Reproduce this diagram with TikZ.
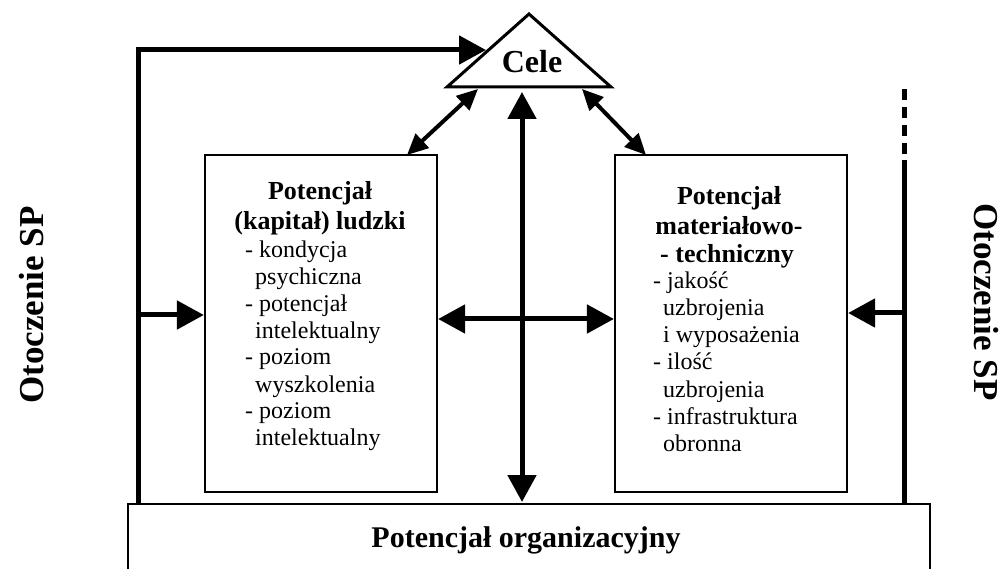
\documentclass[tikz,border=0pt]{standalone}
\usepackage{fontspec}
\setmainfont{Liberation Serif}
\usetikzlibrary{arrows.meta}
\begin{document}
\begin{tikzpicture}[x=1pt,y=-1pt,
  thickline/.style={line width=5pt},
  medline/.style={line width=4pt},
  boxline/.style={draw, line width=2.2pt, rectangle, inner sep=0pt},
  bighead/.style={-{Triangle[length=27pt,width=28pt]}},
  bothheads/.style={{Triangle[length=27pt,width=28pt]}-{Triangle[length=27pt,width=28pt]}},
  diagheads/.style={{Triangle[length=21pt,width=19pt]}-{Triangle[length=21pt,width=19pt]}},
  heading/.style={anchor=base, font=\fontsize{26}{30}\selectfont\bfseries, inner sep=0pt},
  item/.style={anchor=base west, font=\fontsize{24}{27}\selectfont, inner sep=0pt},
  sidelabel/.style={font=\fontsize{35}{40}\selectfont\bfseries, inner sep=0pt}]
\useasboundingbox (0,0) rectangle (1007,569);

% goal triangle
\draw[line width=3pt, line join=miter] (447,87) -- (529,14) -- (611,87) -- cycle;
\node[font=\fontsize{32}{36}\selectfont\bfseries, inner sep=0pt] (cele) at (532,62) {Cele};
\coordinate (celeL) at (486,50);
\coordinate (celeBL) at (478,89);
\coordinate (celeB) at (522,92);
\coordinate (celeBR) at (582,89);

% the two potential boxes
\node[boxline, minimum width=232pt, minimum height=337pt] (human) at (321,323.5) {};
\node[boxline, minimum width=232pt, minimum height=337pt] (material) at (731,323.5) {};

% organisational potential (open at the bottom)
\draw[line width=2.2pt] (128,575) -- (128,504) -- (930,504) -- (930,575);
\coordinate (orgT) at (522,502);
\node[font=\fontsize{30}{34}\selectfont\bfseries, inner sep=0pt] (org) at (526,540) {Potencjał organizacyjny};

% text of the human potential box
\node[heading] (h1) at (320,200) {Potencjał};
\node[heading] (h2) at (320,230) {(kapitał) ludzki};
\node[item] (h3) at (245,258) {- kondycja};
\node[item] (h4) at (255,285) {psychiczna};
\node[item] (h5) at (245,312) {- potencjał};
\node[item] (h6) at (255,339) {intelektualny};
\node[item] (h7) at (245,365) {- poziom};
\node[item] (h8) at (255,392) {wyszkolenia};
\node[item] (h9) at (245,418) {- poziom};
\node[item] (h10) at (255,445) {intelektualny};

% text of the material potential box
\node[heading] (m1) at (729,205) {Potencjał};
\node[heading] (m2) at (729,235) {materiałowo-};
\node[heading] (m3) at (727,263) {- techniczny};
\node[item] (m4) at (653,289) {- jakość};
\node[item] (m5) at (663,316) {uzbrojenia};
\node[item] (m6) at (663,343) {i wyposażenia};
\node[item] (m7) at (653,370) {- ilość};
\node[item] (m8) at (663,397) {uzbrojenia};
\node[item] (m9) at (653,424) {- infrastruktura};
\node[item] (m10) at (663,451) {obronna};

% environment labels
\node[sidelabel, rotate=90] (envL) at (32,305) {Otoczenie SP};
\node[sidelabel, rotate=-90] (envR) at (986,302) {Otoczenie SP};

% left environment line feeding the goals and the human box
\coordinate (lb) at (138,504);
\coordinate (lt) at (138,50);
\coordinate (lm) at (138,315);
\draw[thickline, bighead] (lb) -- (lt) -- (celeL);
\draw[thickline, bighead] (lm) -- (human.west |- lm);

% right environment line, dashed above
\coordinate (rb) at (904,504);
\coordinate (rt) at (904,160);
\coordinate (rd) at (904,86);
\coordinate (rm) at (904,313);
\draw[thickline] (rb) -- (rt);
\draw[thickline, dash pattern=on 11pt off 7pt] (rt) ++(0,-6) -- (rd);
\draw[thickline, bighead] (rm) -- (material.east |- rm);

% links between goals and potentials
\draw[thickline, bothheads] (celeB) -- (orgT);
\draw[thickline, bothheads] (human.east |- 0,319) -- (material.west |- 0,319);
\draw[medline, diagheads] (celeBL) -- (407,155);
\draw[medline, diagheads] (celeBR) -- (646,155);
\end{tikzpicture}
\end{document}
